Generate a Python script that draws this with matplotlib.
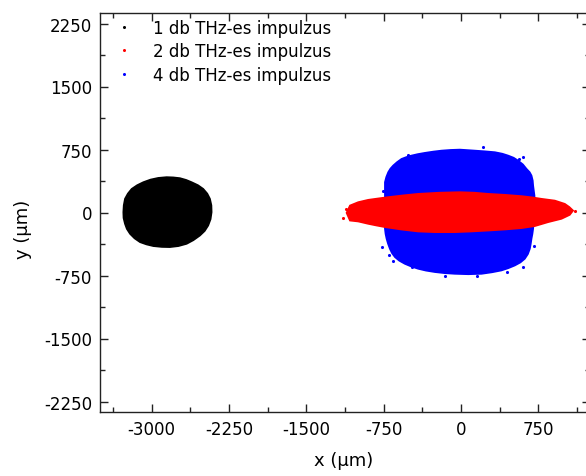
import matplotlib
matplotlib.use("Agg")
import matplotlib.pyplot as plt
from matplotlib.lines import Line2D
from matplotlib.ticker import MultipleLocator

plt.rcParams["font.family"] = ["DejaVu Sans"]
plt.rcParams["axes.unicode_minus"] = False

# Outline of each particle cloud (x, y in micrometres)
black_x = [-2854, -2790, -2725, -2665, -2612, -2550, -2499, -2460, -2434, -2420,
           -2418, -2428, -2451, -2485, -2531, -2595, -2660, -2740, -2822, -2900,
           -2983, -3050, -3112, -3165, -3209, -3240, -3258, -3272, -3274, -3270,
           -3258, -3230, -3193, -3140, -3080, -3010, -2935]
black_y = [421, 418, 409, 388, 361, 325, 281, 225, 163, 85,
           4, -80, -155, -220, -274, -330, -373, -400, -412, -410,
           -400, -380, -353, -308, -254, -195, -135, -65, 4, 85,
           163, 225, 281, 325, 361, 392, 412]

blue_x = [-12, 134, 235, 328, 400, 456, 510, 553, 600, 635, 665, 683, 695, 699,
          712, 712, 705, 699, 692, 683, 676, 667, 648, 618, 575, 521, 460, 392,
          300, 199, 70, -60, -160, -254, -340, -416, -485, -545, -600, -641, -670,
          -690, -708, -722, -732, -738, -745, -738, -738, -725, -706, -685, -658,
          -620, -577, -530, -480, -420, -351, -270, -189, -100]
blue_y = [749, 737, 728, 718, 700, 678, 652, 618, 572, 519, 480, 440, 380, 321,
          200, 0, -100, -194, -255, -313, -372, -432, -495, -551, -595, -631, -662, -690,
          -712, -730, -735, -730, -722, -709, -692, -670, -642, -611, -573, -531, -483,
          -432, -372, -313, -255, -194, 0, 183, 361, 422, 480, 522, 559,
          600, 638, 660, 678, 695, 710, 725, 737, 745]

red_x = [-1110, -1077, -997, -900, -800, -706, -560, -416, -210, -12, 130, 263, 430,
         586, 690, 780, 909, 1006, 1050, 1086, 1054, 974, 844, 715, 586, 430, 263,
         100, -60, -254, -416, -577, -738, -820, -900, -997, -1077]
red_y = [-4, 83, 123, 151, 168, 183, 204, 222, 236, 242, 236, 222, 210,
         195, 180, 163, 142, 103, 65, 23, -28, -75, -115, -162, -186, -202, -215,
         -226, -234, -234, -226, -203, -174, -155, -135, -107, -96]

# Stray particles just outside the dense cores
blue_out_x = [-770, -658, -480, -157, -513, 602, 710, 602, 150, 214, -760, -700, 560, 450]
blue_out_y = [-412, -583, -643, -750, 686, 659, -393, -650, -750, 777, 261, -500, 640, -705]
red_out_x = [-1142, -1120, 1100]
red_out_y = [-67, 40, 20]

labels = ["1 db THz-es impulzus", "2 db THz-es impulzus", "4 db THz-es impulzus"]
colors = ["#000000", "#ff0000", "#0000ff"]

fig = plt.figure(figsize=(5.86, 4.77), dpi=100)
ax = fig.add_axes([100 / 586, 1 - 413 / 477, 490 / 586, 399 / 477])

ax.fill(black_x, black_y, color=colors[0], lw=1.2, zorder=2)
ax.fill(blue_x, blue_y, color=colors[2], lw=1.2, zorder=2)
ax.scatter(blue_out_x, blue_out_y, s=5, color=colors[2], lw=0, zorder=2)
ax.fill(red_x, red_y, color=colors[1], lw=1.2, zorder=3)
ax.scatter(red_out_x, red_out_y, s=5, color=colors[1], lw=0, zorder=3)

ax.set_xlim(-3500, 1250)
ax.set_ylim(-2375, 2375)
ax.xaxis.set_major_locator(MultipleLocator(750))
ax.xaxis.set_minor_locator(MultipleLocator(375))
ax.yaxis.set_major_locator(MultipleLocator(750))
ax.yaxis.set_minor_locator(MultipleLocator(375))
ax.tick_params(which="both", direction="in", top=True, right=True,
               labelsize=12, pad=5.8, width=1.0, color="#222222")
ax.tick_params(which="major", length=6)
ax.tick_params(which="minor", length=3.5)
for s in ax.spines.values():
    s.set_linewidth(1.0)
    s.set_color("#222222")

ax.set_xlabel("x (μm)", fontsize=13)
ax.set_ylabel("y (μm)", fontsize=13)
ax.xaxis.set_label_coords(0.498, -0.098)
ax.yaxis.set_label_coords(-0.139, 0.46)

handles = [Line2D([], [], ls="", marker="o", ms=2.2, color=c, mew=0) for c in colors]
ax.legend(handles, labels, loc="upper left", bbox_to_anchor=(0.029, 0.985),
          frameon=False, fontsize=12, borderpad=0, borderaxespad=0,
          handlelength=1.2, handletextpad=1.1, labelspacing=0.32)

fig.savefig("out.png", dpi=100)
